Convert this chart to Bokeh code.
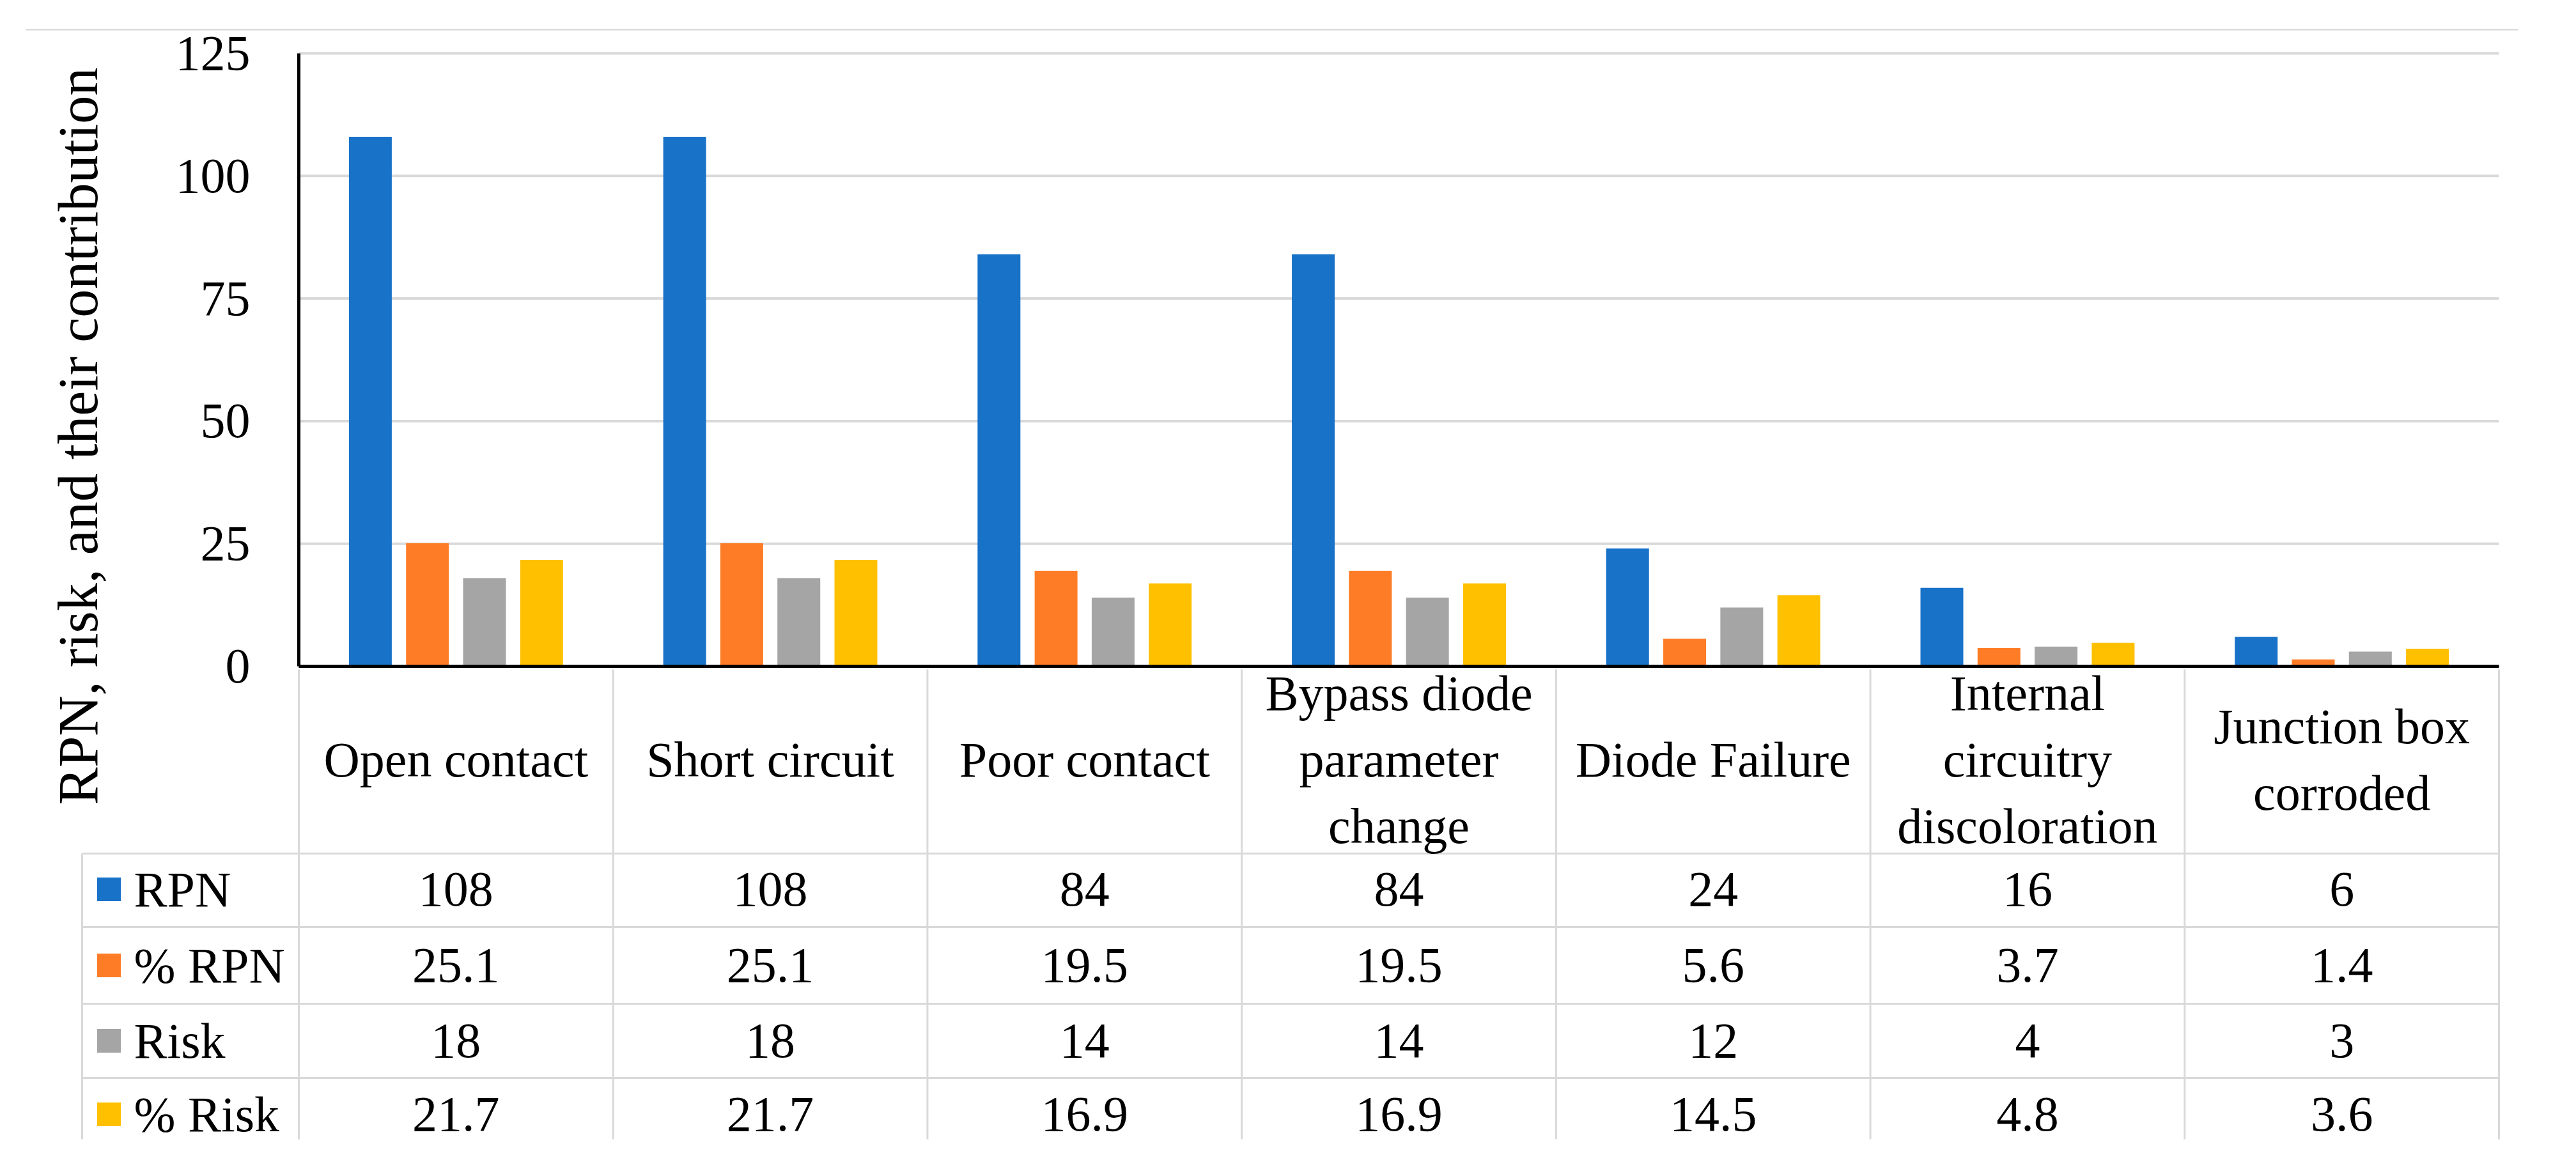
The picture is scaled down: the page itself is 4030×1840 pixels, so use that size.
import numpy as np
from bokeh.plotting import figure
from bokeh.models import Range1d, LinearAxis, FixedTicker, ColumnDataSource, Label
from bokeh.transform import dodge
from bokeh.core.properties import value
from bokeh.embed import file_html
from bokeh.resources import INLINE

# ---------------- data ----------------
categories = [
    "Open contact",
    "Short circuit",
    "Poor contact",
    "Bypass diode\nparameter\nchange",
    "Diode Failure",
    "Internal\ncircuitry\ndiscoloration",
    "Junction box\ncorroded",
]
rpn = [108, 108, 84, 84, 24, 16, 6]
pct_rpn = [25.1, 25.1, 19.5, 19.5, 5.6, 3.7, 1.4]
risk = [18, 18, 14, 14, 12, 4, 3]
pct_risk = [21.7, 21.7, 16.9, 16.9, 14.5, 4.8, 3.6]
series_names = ["RPN", "% RPN", "Risk", "% Risk"]
series_colors = ["#1872C8", "#FF7C26", "#A5A5A5", "#FFC000"]
y_ticks = [0, 25, 50, 75, 100, 125]
y_title = "RPN, risk, and their contribution"

series_values = [rpn, pct_rpn, risk, pct_risk]
n = len(categories)

# ---------------- layout (screen px) ----------------
W, H = 4014, 1824
AX_X, RIGHT_X = 475.0, 3917.0
Y_ZERO, Y_TOP = 1050.0, 91.0
KX = (RIGHT_X - AX_X) / n
KY = (Y_ZERO - Y_TOP) / y_ticks[-1]

FL, FR, FT, FB = 20, 3998, 20, 1826  # frame edges on screen


def dx(sx):
    return (sx - AX_X) / KX


def dy(sy):
    return (Y_ZERO - sy) / KY


FONT = "Liberation Serif"
FS = "78px"
LINE_C = "#D9D9D9"

p = figure(
    width=W, height=H,
    x_range=Range1d(dx(FL), dx(FR)),
    y_range=Range1d(dy(FB), dy(FT)),
    x_axis_type=None, y_axis_type=None,
    output_backend="svg", toolbar_location=None,
    min_border_left=FL - 8, min_border_right=8 + W - FR,
    min_border_top=FT - 8, min_border_bottom=8 + H - FB,
)
p.outline_line_color = None
p.background_fill_color = "white"
p.border_fill_color = "white"

# thin frame line at top
p.segment(x0=[dx(48)], x1=[dx(3947)], y0=[dy(54)], y1=[dy(54)],
          line_color="#D4D4D4", line_width=2)

# gridlines (from the axis to the last category)
p.segment(x0=[0] * len(y_ticks), x1=[n] * len(y_ticks), y0=y_ticks, y1=y_ticks,
          line_color=LINE_C, line_width=4)

# bars
src = ColumnDataSource(dict(
    x=[i + 0.5 for i in range(n)],
    s0=rpn, s1=pct_rpn, s2=risk, s3=pct_risk,
))
PITCH = 89.3 / KX
BAR_W = 67.0 / KX
for k, (name, color) in enumerate(zip(series_names, series_colors)):
    p.vbar(x=dodge("x", (k - 1.5) * PITCH, range=p.x_range), top="s%d" % k,
           bottom=0, width=BAR_W, fill_color=color, line_color=None, source=src)

# zero line
p.segment(x0=[0], x1=[n], y0=[0], y1=[0], line_color="black", line_width=5)

# y axis at x = 0
yaxis = LinearAxis(fixed_location=0, bounds=(0, y_ticks[-1]),
                   ticker=FixedTicker(ticks=y_ticks))
yaxis.axis_line_color = "black"
yaxis.axis_line_width = 5
yaxis.major_tick_line_color = None
yaxis.minor_tick_line_color = None
yaxis.major_label_standoff = 70
yaxis.major_label_text_font = FONT
yaxis.major_label_text_font_size = FS
yaxis.major_label_text_color = "black"
p.add_layout(yaxis, "left")

# y title
p.add_layout(Label(x=dx(130), y=dy(690), text=y_title, angle=np.pi / 2,
                   text_align="center", text_baseline="alphabetic",
                   text_font=FONT, text_font_size="88px", text_color="black"))

# ---------------- data table ----------------
row_lines = [1343, 1458, 1578, 1694]
row_centers = [1399, 1518, 1636, 1751]
LEG_L = 136
TAB_B = 1790

# horizontal lines
p.segment(x0=[dx(LEG_L)] * len(row_lines), x1=[n] * len(row_lines),
          y0=[dy(v) for v in row_lines], y1=[dy(v) for v in row_lines],
          line_color=LINE_C, line_width=3)
# vertical lines between categories
p.segment(x0=list(range(n + 1)), x1=list(range(n + 1)),
          y0=[dy(1055)] * (n + 1), y1=[dy(TAB_B)] * (n + 1),
          line_color=LINE_C, line_width=3)
# left border of legend column
p.segment(x0=[dx(LEG_L)], x1=[dx(LEG_L)], y0=[dy(row_lines[0])], y1=[dy(TAB_B)],
          line_color=LINE_C, line_width=3)

# category header labels
p.text(x=[i + 0.5 for i in range(n)], y=[dy(1196)] * n, text=categories,
       text_align="center", text_baseline="middle", text_font=value(FONT),
       text_font_size=FS, text_color="black", text_line_height=1.19)

# values
tx, ty, tt = [], [], []
for k, vals in enumerate(series_values):
    for i, v in enumerate(vals):
        tx.append(i + 0.5)
        ty.append(dy(row_centers[k]))
        tt.append(str(v))
p.text(x=tx, y=ty, text=tt, text_align="center", text_baseline="middle",
       text_font=value(FONT), text_font_size=FS, text_color="black")

# legend keys and names
p.scatter(x=[dx(178)] * len(series_names), y=[dy(c) for c in row_centers],
          marker="square", size=37, fill_color=series_colors, line_color=None)
p.text(x=[dx(217)] * len(series_names), y=[dy(c) for c in row_centers],
       text=series_names, text_align="left", text_baseline="middle",
       text_font=value(FONT), text_font_size=FS, text_color="black")

open("out.html", "w").write(file_html(p, INLINE))
